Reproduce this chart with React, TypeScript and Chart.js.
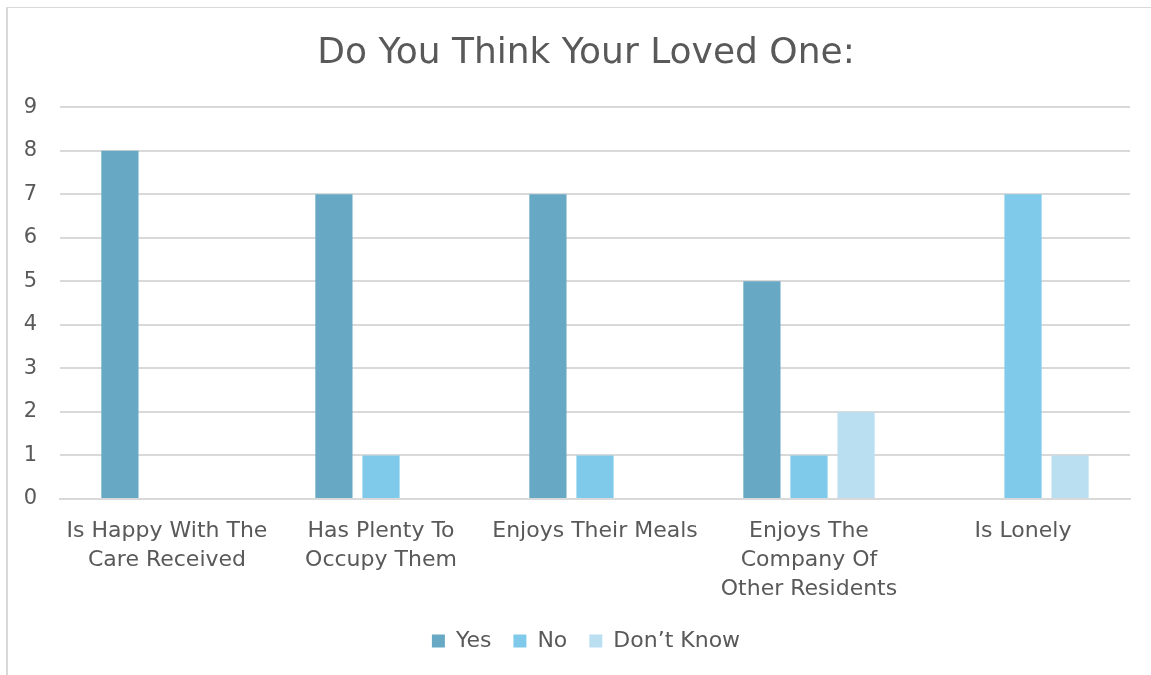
import React, { useEffect, useRef } from "react";
import { Chart, registerables } from "chart.js";

Chart.register(...registerables);

const categories: string[][] = [
  ["Is Happy With The", "Care Received"],
  ["Has Plenty To", "Occupy Them"],
  ["Enjoys Their Meals"],
  ["Enjoys The", "Company Of", "Other Residents"],
  ["Is Lonely"],
];
const yesValues = [8, 7, 7, 5, 0];
const noValues = [0, 1, 1, 1, 7];
const dontKnowValues = [0, 0, 0, 2, 1];
const seriesNames = ["Yes", "No", "Don\u2019t Know"];
const titleText = "Do You Think Your Loved One:";

const FONT = "'DejaVu Sans', 'Liberation Sans', sans-serif";
const TEXT = "#595959";
const GRID = "#d9d9d9";

export default function App() {
  const ref = useRef<HTMLCanvasElement | null>(null);
  useEffect(() => {
    document.body.style.overflow = "hidden";
    const ctx = ref.current!;
    const chart = new Chart(ctx, {
      type: "bar",
      data: {
        labels: categories,
        datasets: [
          { label: seriesNames[0], data: yesValues, backgroundColor: "#67A8C4" },
          { label: seriesNames[1], data: noValues, backgroundColor: "#7FCAEA" },
          { label: seriesNames[2], data: dontKnowValues, backgroundColor: "#B9DFF1" },
        ],
      },
      options: {
        animation: false,
        responsive: false,
        maintainAspectRatio: false,
        layout: { padding: { left: 0, right: 0, top: 0, bottom: 13 } },
        datasets: {
          bar: { categoryPercentage: 0.66, barPercentage: 0.79 },
        },
        plugins: {
          title: {
            display: true,
            text: titleText,
            color: TEXT,
            font: { family: FONT, size: 36, weight: "normal" },
            padding: { top: 24, bottom: 32 },
          },
          legend: {
            display: true,
            position: "bottom",
            labels: {
              color: TEXT,
              font: { family: FONT, size: 22 },
              boxWidth: 13,
              boxHeight: 13,
              padding: 22,
            },
          },
          tooltip: { enabled: false },
        },
        scales: {
          x: {
            grid: { display: false, drawTicks: false },
            border: { display: true, color: GRID, width: 2 },
            ticks: {
              color: TEXT,
              font: { family: FONT, size: 22, lineHeight: 1.32 },
              padding: 18,
              maxRotation: 0,
              autoSkip: false,
            },
            afterFit: (scale: any) => {
              scale.height = 109;
            },
          },
          y: {
            min: 0,
            max: 9,
            grid: { color: GRID, lineWidth: 2, drawTicks: false },
            border: { display: false },
            ticks: {
              stepSize: 1,
              color: TEXT,
              font: { family: FONT, size: 21 },
              padding: 23,
            },
            afterFit: (scale: any) => {
              scale.width = 52;
            },
          },
          yRight: {
            position: "right",
            display: true,
            min: 0,
            max: 9,
            grid: { display: false, drawTicks: false },
            border: { display: false },
            ticks: { display: false },
            afterFit: (scale: any) => {
              scale.width = 34;
            },
          },
        },
      },
    });
    return () => chart.destroy();
  }, []);
  return (
    <div
      style={{
        position: "absolute",
        left: 6,
        top: 7,
        width: 1158,
        height: 668,
        borderLeft: `2px solid ${GRID}`,
        borderTop: `1px solid ${GRID}`,
        boxSizing: "border-box",
        background: "#fff",
      }}
    >
      <canvas ref={ref} width={1156} height={667} style={{ display: "block" }} />
    </div>
  );
}
